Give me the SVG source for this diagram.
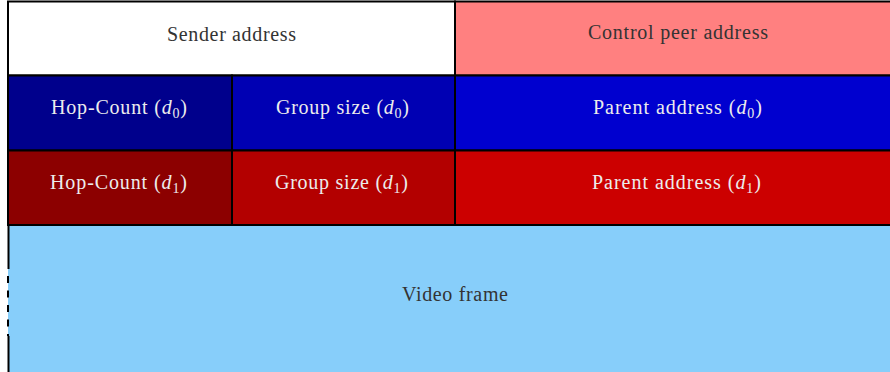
<svg xmlns="http://www.w3.org/2000/svg" width="890" height="372" viewBox="0 0 890 372">
<style>
.cell{stroke:#000;stroke-width:2}
.lbl{font-family:"Liberation Serif","Times New Roman",serif;font-size:20px}
.dark{fill:#333}
.light{fill:#ececec}
.it{font-style:italic}
.sub{font-size:14px}
.edge{stroke:#000;stroke-width:2;fill:none}
</style>
<rect width="890" height="372" fill="#fff"/>
<g id="video-frame">
<rect x="8" y="225" width="894" height="160" fill="#87CEFA"/>
<text class="lbl dark" x="402" y="301" textLength="106" lengthAdjust="spacing">Video frame</text>
</g>
<g id="sender-address">
<rect class="cell" x="8" y="1.5" width="447" height="74" fill="#fff"/>
<text class="lbl dark" x="167" y="41" textLength="129" lengthAdjust="spacing">Sender address</text>
</g>
<g id="control-peer-address">
<rect class="cell" x="455" y="1.5" width="447" height="74" fill="#FF8080"/>
<text class="lbl dark" x="588" y="39" textLength="180" lengthAdjust="spacing">Control peer address</text>
</g>
<g id="hop-count-d0">
<rect class="cell" x="8" y="75.5" width="224" height="75" fill="#00008C"/>
<text class="lbl light" x="51" y="114" textLength="136" lengthAdjust="spacing">Hop-Count (<tspan class="it">d</tspan><tspan class="sub" dy="4">0</tspan><tspan dy="-4">)</tspan></text>
</g>
<g id="group-size-d0">
<rect class="cell" x="232" y="75.5" width="223" height="75" fill="#0000B3"/>
<text class="lbl light" x="276" y="114" textLength="133" lengthAdjust="spacing">Group size (<tspan class="it">d</tspan><tspan class="sub" dy="4">0</tspan><tspan dy="-4">)</tspan></text>
</g>
<g id="parent-address-d0">
<rect class="cell" x="455" y="75.5" width="447" height="75" fill="#0000CF"/>
<text class="lbl light" x="593" y="114" textLength="169" lengthAdjust="spacing">Parent address (<tspan class="it">d</tspan><tspan class="sub" dy="4">0</tspan><tspan dy="-4">)</tspan></text>
</g>
<g id="hop-count-d1">
<rect class="cell" x="8" y="150.5" width="224" height="74.5" fill="#8C0000"/>
<text class="lbl light" x="50" y="189" textLength="137" lengthAdjust="spacing">Hop-Count (<tspan class="it">d</tspan><tspan class="sub" dy="4">1</tspan><tspan dy="-4">)</tspan></text>
</g>
<g id="group-size-d1">
<rect class="cell" x="232" y="150.5" width="223" height="74.5" fill="#B30000"/>
<text class="lbl light" x="275" y="189" textLength="133" lengthAdjust="spacing">Group size (<tspan class="it">d</tspan><tspan class="sub" dy="4">1</tspan><tspan dy="-4">)</tspan></text>
</g>
<g id="parent-address-d1">
<rect class="cell" x="455" y="150.5" width="447" height="74.5" fill="#CC0000"/>
<text class="lbl light" x="592" y="189" textLength="169" lengthAdjust="spacing">Parent address (<tspan class="it">d</tspan><tspan class="sub" dy="4">1</tspan><tspan dy="-4">)</tspan></text>
</g>
<g id="borders">
<path class="edge" d="M8 225 H902"/>
<path class="edge" d="M8.5 225 V269 M8.5 336 V372"/>
<path class="edge" d="M8 276 V336" stroke-dasharray="7 7.5"/>
</g>
</svg>
